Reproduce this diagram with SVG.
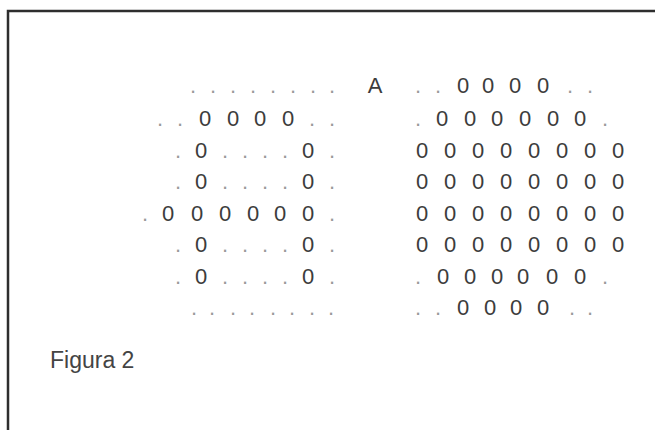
<svg xmlns="http://www.w3.org/2000/svg" width="655" height="430" viewBox="0 0 655 430">
<style>
.z{font-family:"Liberation Sans",Arial,sans-serif;font-size:22px;fill:#3c3c3c;text-anchor:middle;white-space:pre}
.d{fill:#9a9a9a}
.cap{font-family:"Liberation Sans",Arial,sans-serif;font-size:23px;fill:#444}
.frame{stroke:#2e2e2e;stroke-width:2.5;fill:none}
</style>
<rect width="655" height="430" fill="#ffffff"/>
<g id="frame">
<path class="frame" d="M8,430 V11 H655"/>
</g>
<g id="left-grid">
<text class="z d" x="193 203 213 223 233 243 253 263 273 283 293 303 313 322 332" y="93">. . . . . . . .</text>
<text class="z" y="126"><tspan class="d" x="160 170 180">. .</tspan><tspan x="192 205 219 233 246 260 274 288"> 0 0 0 0</tspan><tspan class="d" x="300 312 322 332"> . .</tspan></text>
<text class="z" y="158"><tspan class="d" x="178">.</tspan><tspan x="190 201"> 0</tspan><tspan class="d" x="213 225 235 245 255 265 275 285"> . . . .</tspan><tspan x="296 308"> 0</tspan><tspan class="d" x="320 332"> .</tspan></text>
<text class="z" y="189"><tspan class="d" x="178">.</tspan><tspan x="190 201"> 0</tspan><tspan class="d" x="213 225 235 245 255 265 275 285"> . . . .</tspan><tspan x="296 308"> 0</tspan><tspan class="d" x="320 332"> .</tspan></text>
<text class="z" y="221"><tspan class="d" x="145">.</tspan><tspan x="156 168 182 197 211 225 239 253 266 280 294 308"> 0 0 0 0 0 0</tspan><tspan class="d" x="320 332"> .</tspan></text>
<text class="z" y="252"><tspan class="d" x="178">.</tspan><tspan x="190 201"> 0</tspan><tspan class="d" x="213 225 235 245 255 265 275 285"> . . . .</tspan><tspan x="296 308"> 0</tspan><tspan class="d" x="320 332"> .</tspan></text>
<text class="z" y="284"><tspan class="d" x="178">.</tspan><tspan x="190 201"> 0</tspan><tspan class="d" x="213 225 235 245 255 265 275 285"> . . . .</tspan><tspan x="296 308"> 0</tspan><tspan class="d" x="320 332"> .</tspan></text>
<text class="z d" x="194 203 212 222 233 242 252 262 273 282 292 302 312 321 331" y="315">. . . . . . . .</text>
</g>
<g id="label-A">
<text class="z" x="375" y="93">A</text>
</g>
<g id="right-grid">
<text class="z" y="93"><tspan class="d" x="418 428 438">. .</tspan><tspan x="450 463 475 488 501 515 529 543"> 0 0 0 0</tspan><tspan class="d" x="556 570 580 590"> . .</tspan></text>
<text class="z" y="126"><tspan class="d" x="418">.</tspan><tspan x="430 442 456 470 483 497 511 525 539 553 566 580"> 0 0 0 0 0 0</tspan><tspan class="d" x="592 605"> .</tspan></text>
<text class="z" x="422 436 450 464 478 492 506 520 534 548 562 576 590 604 618" y="158">0 0 0 0 0 0 0 0</text>
<text class="z" x="422 436 450 464 478 492 506 520 534 548 562 576 590 604 618" y="189">0 0 0 0 0 0 0 0</text>
<text class="z" x="422 436 450 464 478 492 506 520 534 548 562 576 590 604 618" y="221">0 0 0 0 0 0 0 0</text>
<text class="z" x="422 436 450 464 478 492 506 520 534 548 562 576 590 604 618" y="252">0 0 0 0 0 0 0 0</text>
<text class="z" y="284"><tspan class="d" x="418">.</tspan><tspan x="430 443 456 470 483 497 510 523 537 552 566 580"> 0 0 0 0 0 0</tspan><tspan class="d" x="592 605"> .</tspan></text>
<text class="z" y="315"><tspan class="d" x="418 428 438">. .</tspan><tspan x="450 463 476 490 503 516 529 543"> 0 0 0 0</tspan><tspan class="d" x="557 572 581 590"> . .</tspan></text>
</g>
<g id="caption">
<text class="cap" x="50" y="368">Figura 2</text>
</g>
</svg>
